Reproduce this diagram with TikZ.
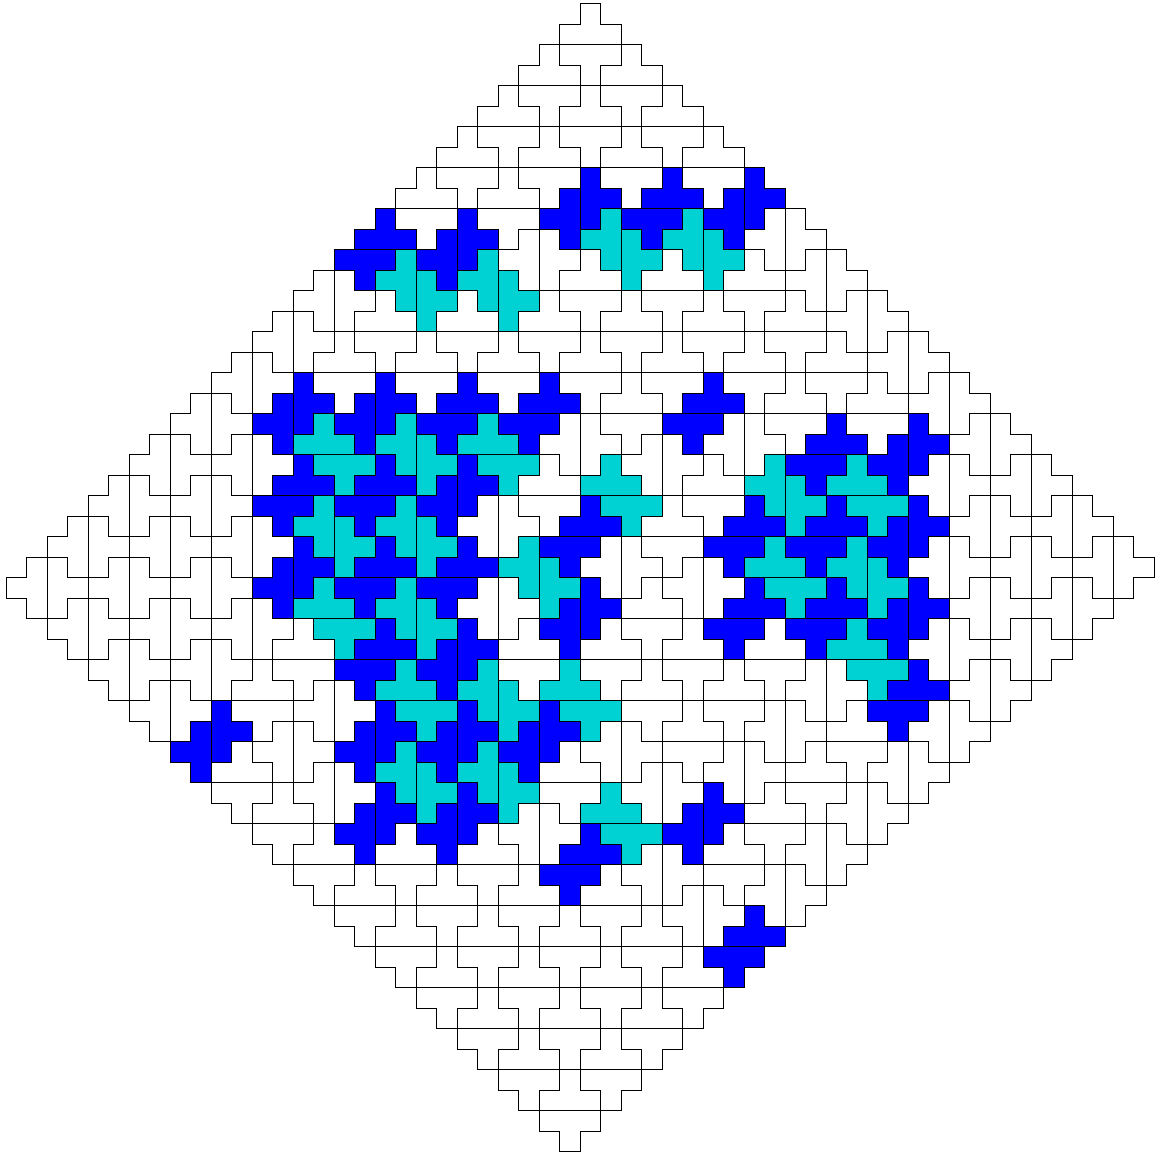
\documentclass[tikz,border=0pt]{standalone}
\usepackage{xcolor}
\usepackage{tikz}
\definecolor{tileblue}{RGB}{0,0,255}
\definecolor{tilecyan}{RGB}{0,210,212}
\tikzset{
  whitetile/.style={draw=black,fill=white,line width=0.7pt},
  bluetile/.style={draw=black,fill=tileblue,line width=0.7pt},
  cyantile/.style={draw=black,fill=tilecyan,line width=0.7pt}
}

\begin{document}
\begin{tikzpicture}[x=0.5cm,y=-0.5cm]
  \newcommand{\tileup}[3]{%
    \draw[#1,shift={(#2,#3)}] (0,-1)--(1,-1)--(1,0)--(2,0)--(2,1)--(-1,1)--(-1,0)--(0,0)--cycle;}
  \newcommand{\tiledown}[3]{%
    \draw[#1,shift={(#2,#3)}] (-1,0)--(2,0)--(2,1)--(1,1)--(1,2)--(0,2)--(0,1)--(-1,1)--cycle;}
  \newcommand{\tileleft}[3]{%
    \draw[#1,shift={(#2,#3)}] (0,-1)--(1,-1)--(1,2)--(0,2)--(0,1)--(-1,1)--(-1,0)--(0,0)--cycle;}
  \newcommand{\tileright}[3]{%
    \draw[#1,shift={(#2,#3)}] (0,-1)--(1,-1)--(1,0)--(2,0)--(2,1)--(1,1)--(1,2)--(0,2)--cycle;}

  \useasboundingbox (-0.293,-0.18) rectangle (56.146,56.21);

  % white tiles, back to back
  \foreach \c/\r in {28/1,26/3,30/3,24/5,28/5,32/5,22/7,26/7,30/7,34/7,20/9,24/9,
      28/13,32/13,36/13,18/15,22/15,26/15,30/15,34/15,38/15,
      16/17,20/17,24/17,28/17,32/17,36/17,40/17,30/19,38/19,42/19,
      26/23,34/23,32/25,31/29,25/31,29/31,33/31,37/31,14/31,12/33,31/33,35/33,
      33/35,41/35,11/37,27/37,39/37,13/39,37/39,15/41,19/41,23/41,35/41,
      17/43,21/43,25/43,29/43,19/45,23/45,27/45,31/45,21/47,25/47,29/47,33/47,
      23/49,27/49,31/49,25/51,29/51,27/53}{
    \tileup{whitetile}{\c}{\r}
    \tiledown{whitetile}{\c}{\r+1}
  }
  \foreach \c/\r in {1/28,3/26,3/30,5/24,5/28,5/32,7/22,7/26,7/30,7/34,
      9/20,9/24,9/28,9/32,11/18,11/22,11/26,11/30,13/16,13/36,15/14,15/34,15/38,
      25/12,23/25,23/29,27/21,31/22,35/21,29/27,33/28,25/40,31/38,31/42,29/36,33/44,35/37,
      37/11,39/13,41/15,43/17,45/19,47/21,49/23,51/25,53/27,
      45/23,47/25,49/27,51/29,45/27,47/29,49/31,45/31,47/33,45/35,
      43/37,41/39,39/41,37/43,37/35,39/33}{
    \tileleft{whitetile}{\c}{\r}
    \tileright{whitetile}{\c+1}{\r}
  }

  % blue tiles
  \foreach \c/\r in {32/9,18/11,22/19,26/19,34/19,40/21,18/23,14/23,28/25,36/25,40/25,
      18/27,22/27,36/29,40/29,18/31,44/33,28/41,36/45}{
    \tileup{bluetile}{\c}{\r}
    \tiledown{bluetile}{\c-1}{\r+1}
  }
  \foreach \c/\r in {27/10,35/10,21/12,17/20,13/20,21/24,13/28,27/30,43/22,43/26,43/30,
      21/32,25/36,21/36,17/36,9/36,21/40,17/40,33/40}{
    \tileleft{bluetile}{\c}{\r}
    \tileright{bluetile}{\c+1}{\r-1}
  }

  % cyan tiles
  \foreach \c/\r in {15/21,23/21,29/23,41/23,37/27,15/29,41/31,19/33,27/33,29/39}{
    \tileup{cyantile}{\c}{\r}
    \tiledown{cyantile}{\c+1}{\r+1}
  }
  \foreach \c/\r in {29/11,33/11,19/13,23/13,19/21,37/23,15/25,19/25,25/27,41/27,
      19/29,23/33,19/37,23/37}{
    \tileleft{cyantile}{\c}{\r}
    \tileright{cyantile}{\c+1}{\r+1}
  }
\end{tikzpicture}
\end{document}
